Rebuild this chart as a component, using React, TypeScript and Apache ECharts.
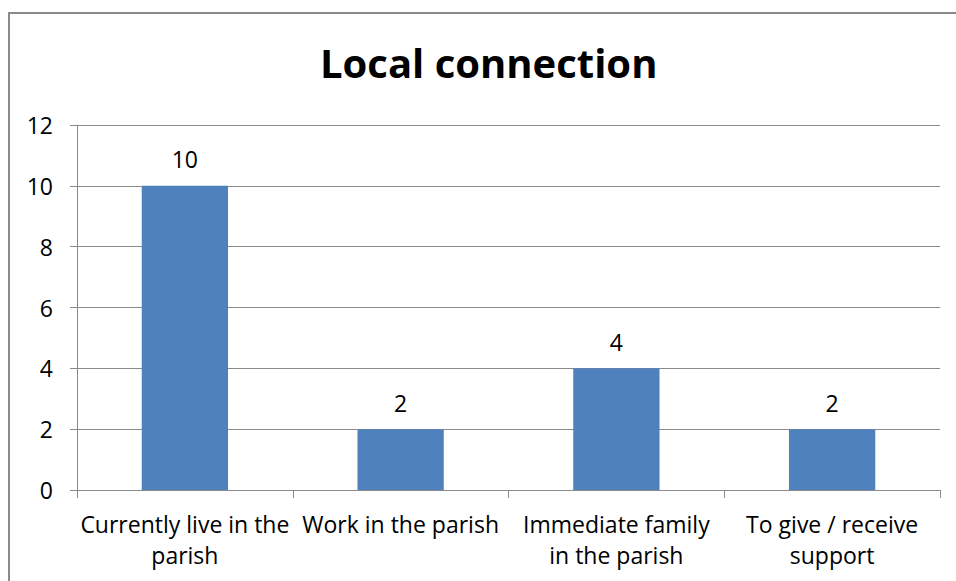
import React, { useEffect, useRef } from "react";
import * as echarts from "echarts";

const categories = [
  "Currently live in the\nparish",
  "Work in the parish",
  "Immediate family\nin the parish",
  "To give / receive\nsupport",
];
const values = [10, 2, 4, 2];
const yMin = 0;
const yMax = 12;
const yInterval = 2;

const FONT = "'Open Sans', 'Liberation Sans', sans-serif";

export default function App() {
  const ref = useRef<HTMLDivElement>(null);
  useEffect(() => {
    if (!ref.current) return;
    const chart = echarts.init(ref.current, null, { renderer: "svg" });
    chart.setOption({
      animation: false,
      backgroundColor: "#ffffff",
      title: {
        text: "Local connection",
        left: 315,
        top: 37,
        textStyle: {
          fontFamily: FONT,
          fontSize: 40,
          fontWeight: "bold",
          color: "#000000",
        },
      },
      graphic: [
        {
          type: "rect",
          shape: { x: 9, y: 13, width: 1000, height: 700 },
          style: { fill: "none", stroke: "#8a8a8a", lineWidth: 2 },
          silent: true,
        },
      ],
      grid: { left: 77, right: 16, top: 125, bottom: 91, containLabel: false },
      xAxis: {
        type: "category",
        data: categories,
        boundaryGap: true,
        axisLine: { show: true, lineStyle: { color: "#8a8a8a", width: 1 } },
        axisTick: { show: true, length: 8, lineStyle: { color: "#8a8a8a" } },
        axisLabel: {
          interval: 0,
          margin: 18,
          fontFamily: FONT,
          fontSize: 23,
          color: "#000000",
          lineHeight: 31,
        },
      },
      yAxis: {
        type: "value",
        min: yMin,
        max: yMax,
        interval: yInterval,
        axisLine: { show: true, lineStyle: { color: "#8a8a8a", width: 1 } },
        axisTick: { show: true, length: 7, lineStyle: { color: "#8a8a8a" } },
        splitLine: { show: true, lineStyle: { color: "#8a8a8a", width: 1 } },
        axisLabel: {
          margin: 24,
          fontFamily: FONT,
          fontSize: 23,
          color: "#000000",
        },
      },
      series: [
        {
          type: "bar",
          data: values,
          barWidth: "40%",
          itemStyle: { color: "#4F81BD" },
          label: {
            show: true,
            position: "top",
            distance: 15,
            fontFamily: FONT,
            fontSize: 23,
            color: "#000000",
          },
        },
      ],
    });
    return () => chart.dispose();
  }, []);
  return (
    <div
      ref={ref}
      style={{ position: "fixed", left: 0, top: 0, width: 956, height: 581 }}
    />
  );
}
